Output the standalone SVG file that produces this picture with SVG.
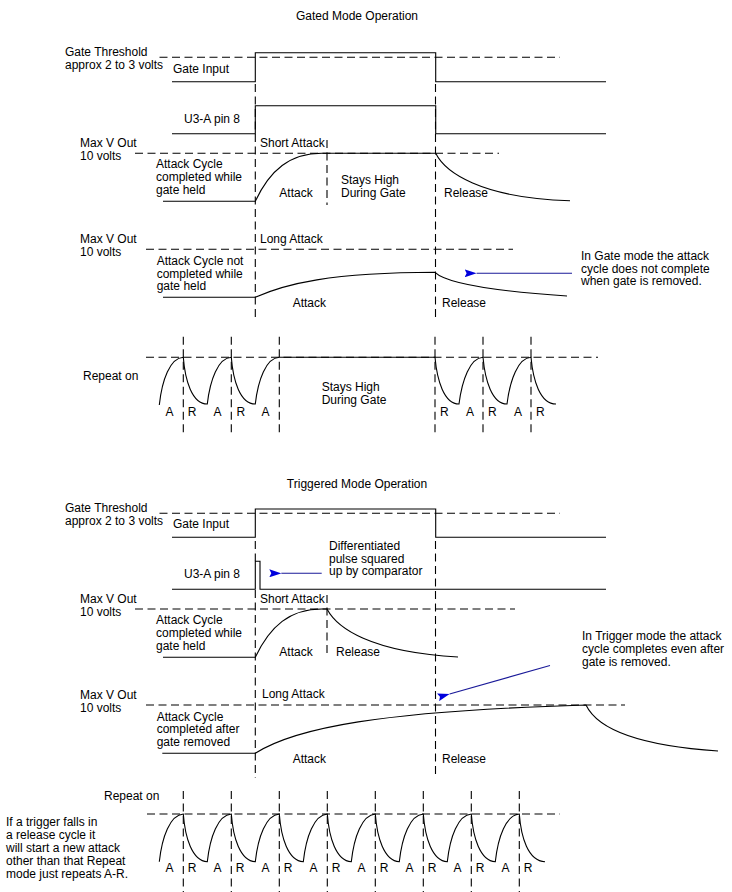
<svg xmlns="http://www.w3.org/2000/svg" width="732" height="892" viewBox="0 0 732 892">
<defs>
<style>
text{font-family:"Liberation Sans",Arial,sans-serif;font-size:12px;fill:#000}
.s{fill:none;stroke:#000;stroke-width:1.1}
.d{fill:none;stroke:#000;stroke-width:1.1;stroke-dasharray:8,4.5}
.b{fill:none;stroke:#1a1a99;stroke-width:1.1}
.m{text-anchor:middle}
</style>
<marker id="ah" viewBox="0 0 12 8" refX="0" refY="4" markerWidth="12" markerHeight="8" markerUnits="userSpaceOnUse" orient="auto-start-reverse">
<path d="M0,4 L12,0 L10,4 L12,8 Z" fill="#0000dd"/>
</marker>
</defs>
<rect width="732" height="892" fill="#fff"/>

<g id="gated">
<text class="m" x="357" y="20">Gated Mode Operation</text>
<g id="g-gate">
<text x="65" y="56">Gate Threshold</text>
<text x="65" y="69">approx 2 to 3 volts</text>
<text x="173" y="72.5">Gate Input</text>
<path class="d" d="M159.5,57.3H560"/>
<path class="s" d="M172,81.7H255.3V52.7H435.7V81.7H606"/>
</g>
<g id="g-u3a">
<text x="184" y="123.3">U3-A pin 8</text>
<path class="s" d="M172,133.7H255.3V105.7H435.7V133.7H606"/>
</g>
<g id="g-short">
<text x="80" y="147.3">Max V Out</text>
<text x="80" y="159.8">10 volts</text>
<text x="260" y="146.7">Short Attack</text>
<text x="156" y="168.3">Attack Cycle</text>
<text x="156" y="181.3">completed while</text>
<text x="156" y="194">gate held</text>
<text x="279.3" y="196.7">Attack</text>
<text x="341" y="184">Stays High</text>
<text x="341" y="197">During Gate</text>
<text x="444" y="196.7">Release</text>
<path class="d" d="M135,153.3H499"/>
<path class="d" d="M327,140V205"/>
<path class="s" d="M163,201.3H255.3C270,170 290,153.3 322,153.3H435.7C445,172 480,198 570,200.7"/>
</g>
<g id="g-long">
<text x="80" y="243.3">Max V Out</text>
<text x="80" y="255.8">10 volts</text>
<text x="260" y="242.7">Long Attack</text>
<text x="156.7" y="265">Attack Cycle not</text>
<text x="156.7" y="277.5">completed while</text>
<text x="156.7" y="290">gate held</text>
<text x="292.7" y="307.3">Attack</text>
<text x="442" y="307.3">Release</text>
<text x="581" y="260">In Gate mode the attack</text>
<text x="581" y="272.5">cycle does not complete</text>
<text x="581" y="285">when gate is removed.</text>
<path class="d" d="M146,249.3H513"/>
<path class="s" d="M163,297.3H255.3C285,284 330,272.5 435,272.3C445,282 480,290 567,296"/>
</g>
<g id="g-repeat">
<text x="83" y="380">Repeat on</text>
<text x="321.7" y="391">Stays High</text>
<text x="321.7" y="404.3">During Gate</text>
<path class="d" d="M146,357.3H598"/>
<path class="s" d="M159.3,405C162,380 170,358 183.3,357.3C185,380 192,404 207.3,404C210,380 218,358 231.3,357.3C233,380 240,404 255.3,404C258,380 266,358 279.3,357.3H435C437,380 444,404 459,404C462,380 470,358 483,357.3C485,380 492,404 507,404C510,380 518,358 531,357.3C533,380 540,404 556,404"/>
<g class="m">
<text x="169.5" y="416">A</text><text x="217.5" y="416">A</text><text x="265.5" y="416">A</text>
<text x="470" y="416">A</text><text x="518" y="416">A</text>
</g>
<text x="187.7" y="416">R</text><text x="236.5" y="416">R</text>
<text x="440" y="416">R</text><text x="488" y="416">R</text><text x="536" y="416">R</text>
</g>
<g id="g-vlines">
<path class="d" d="M255.3,84V320M435.5,84V320"/>
<path class="d" d="M183.3,336.7V433.3M231.3,336.7V433.3M279.3,336.7V433.3M435,336.7V433.3M483,336.7V433.3M531,336.7V433.3"/>
</g>
</g>

<g id="triggered">
<text class="m" x="357" y="488">Triggered Mode Operation</text>
<g id="t-gate">
<text x="65" y="512">Gate Threshold</text>
<text x="65" y="525">approx 2 to 3 volts</text>
<text x="173" y="527.7">Gate Input</text>
<path class="d" d="M159.5,513.3H560"/>
<path class="s" d="M172,537.3H255.3V509H435.7V537.3H606"/>
</g>
<g id="t-u3a">
<text x="184" y="577.7">U3-A pin 8</text>
<text x="329" y="550">Differentiated</text>
<text x="329" y="562.5">pulse squared</text>
<text x="329" y="575">up by comparator</text>
<path class="s" d="M172,589.3H255.3V561.3H260V589.3H606"/>
</g>
<g id="t-short">
<text x="80" y="603">Max V Out</text>
<text x="80" y="615.5">10 volts</text>
<text x="260" y="603">Short Attack</text>
<text x="156" y="624">Attack Cycle</text>
<text x="156" y="637">completed while</text>
<text x="156" y="649.7">gate held</text>
<text x="279.3" y="655.5">Attack</text>
<text x="336" y="655.5">Release</text>
<path class="d" d="M135,609H515"/>
<path class="d" d="M327,595V656"/>
<path class="s" d="M163,657.3H255.3C270,626 290,609 322,609H327C337,628 370,652 458,657"/>
</g>
<g id="t-long">
<text x="80" y="699">Max V Out</text>
<text x="80" y="711.5">10 volts</text>
<text x="262" y="698.3">Long Attack</text>
<text x="156.7" y="720.7">Attack Cycle</text>
<text x="156.7" y="733.3">completed after</text>
<text x="156.7" y="745.8">gate removed</text>
<text x="292.7" y="763.3">Attack</text>
<text x="442" y="763.3">Release</text>
<text x="582" y="640">In Trigger mode the attack</text>
<text x="582" y="653">cycle completes even after</text>
<text x="582" y="666">gate is removed.</text>
<path class="d" d="M146,705H625"/>
<path class="s" d="M162.3,753.3H255.3C295,728 380,711 586,705C596,726 630,745 718,751"/>
</g>
<g id="t-repeat">
<text x="104" y="800">Repeat on</text>
<text x="6" y="826">If a trigger falls in</text>
<text x="6" y="839">a release cycle it</text>
<text x="6" y="852">will start a new attack</text>
<text x="6" y="865">other than that Repeat</text>
<text x="6" y="878">mode just repeats A-R.</text>
<path class="d" d="M147,814H560"/>
<path class="s" d="M159.3,861.7C162,837 170,815 183.3,814C185,837 192,861 207.3,861.7C210,837 218,815 231.3,814C233,837 240,861 255.3,861.7C258,837 266,815 279.3,814C281,837 288,861 303.3,861.7C306,837 314,815 327.3,814C329,837 336,861 351.3,861.7C354,837 362,815 375.3,814C377,837 384,861 399.3,861.7C402,837 410,815 423.3,814C425,837 432,861 447.3,861.7C450,837 458,815 471.3,814C473,837 480,861 495.3,861.7C498,837 506,815 519.3,814C521,837 528,861 545,861.7"/>
<g class="m">
<text x="169.5" y="871.7">A</text><text x="217.5" y="871.7">A</text><text x="265.5" y="871.7">A</text><text x="313.5" y="871.7">A</text>
<text x="361.5" y="871.7">A</text><text x="409.5" y="871.7">A</text><text x="457.5" y="871.7">A</text><text x="505.5" y="871.7">A</text>
</g>
<text x="187.7" y="871.7">R</text><text x="235.7" y="871.7">R</text><text x="283.7" y="871.7">R</text><text x="331.7" y="871.7">R</text>
<text x="379.7" y="871.7">R</text><text x="427.7" y="871.7">R</text><text x="475.7" y="871.7">R</text><text x="523.7" y="871.7">R</text>
</g>
<g id="t-vlines">
<path class="d" d="M255.3,541V561M255.3,590V778M435.5,541V778"/>
<path class="d" d="M183.3,791V892M231.3,791V892M279.3,791V892M327.3,791V892M375.3,791V892M423.3,791V892M471.3,791V892M519.3,791V892"/>
</g>
</g>

<g id="connectors">
<path class="b" d="M572,273.3H476.6" marker-end="url(#ah)"/>
<path class="b" d="M321.7,573.3H281.3" marker-end="url(#ah)"/>
<path class="b" d="M550,665.5L449.6,694" marker-end="url(#ah)"/>
</g>
</svg>
